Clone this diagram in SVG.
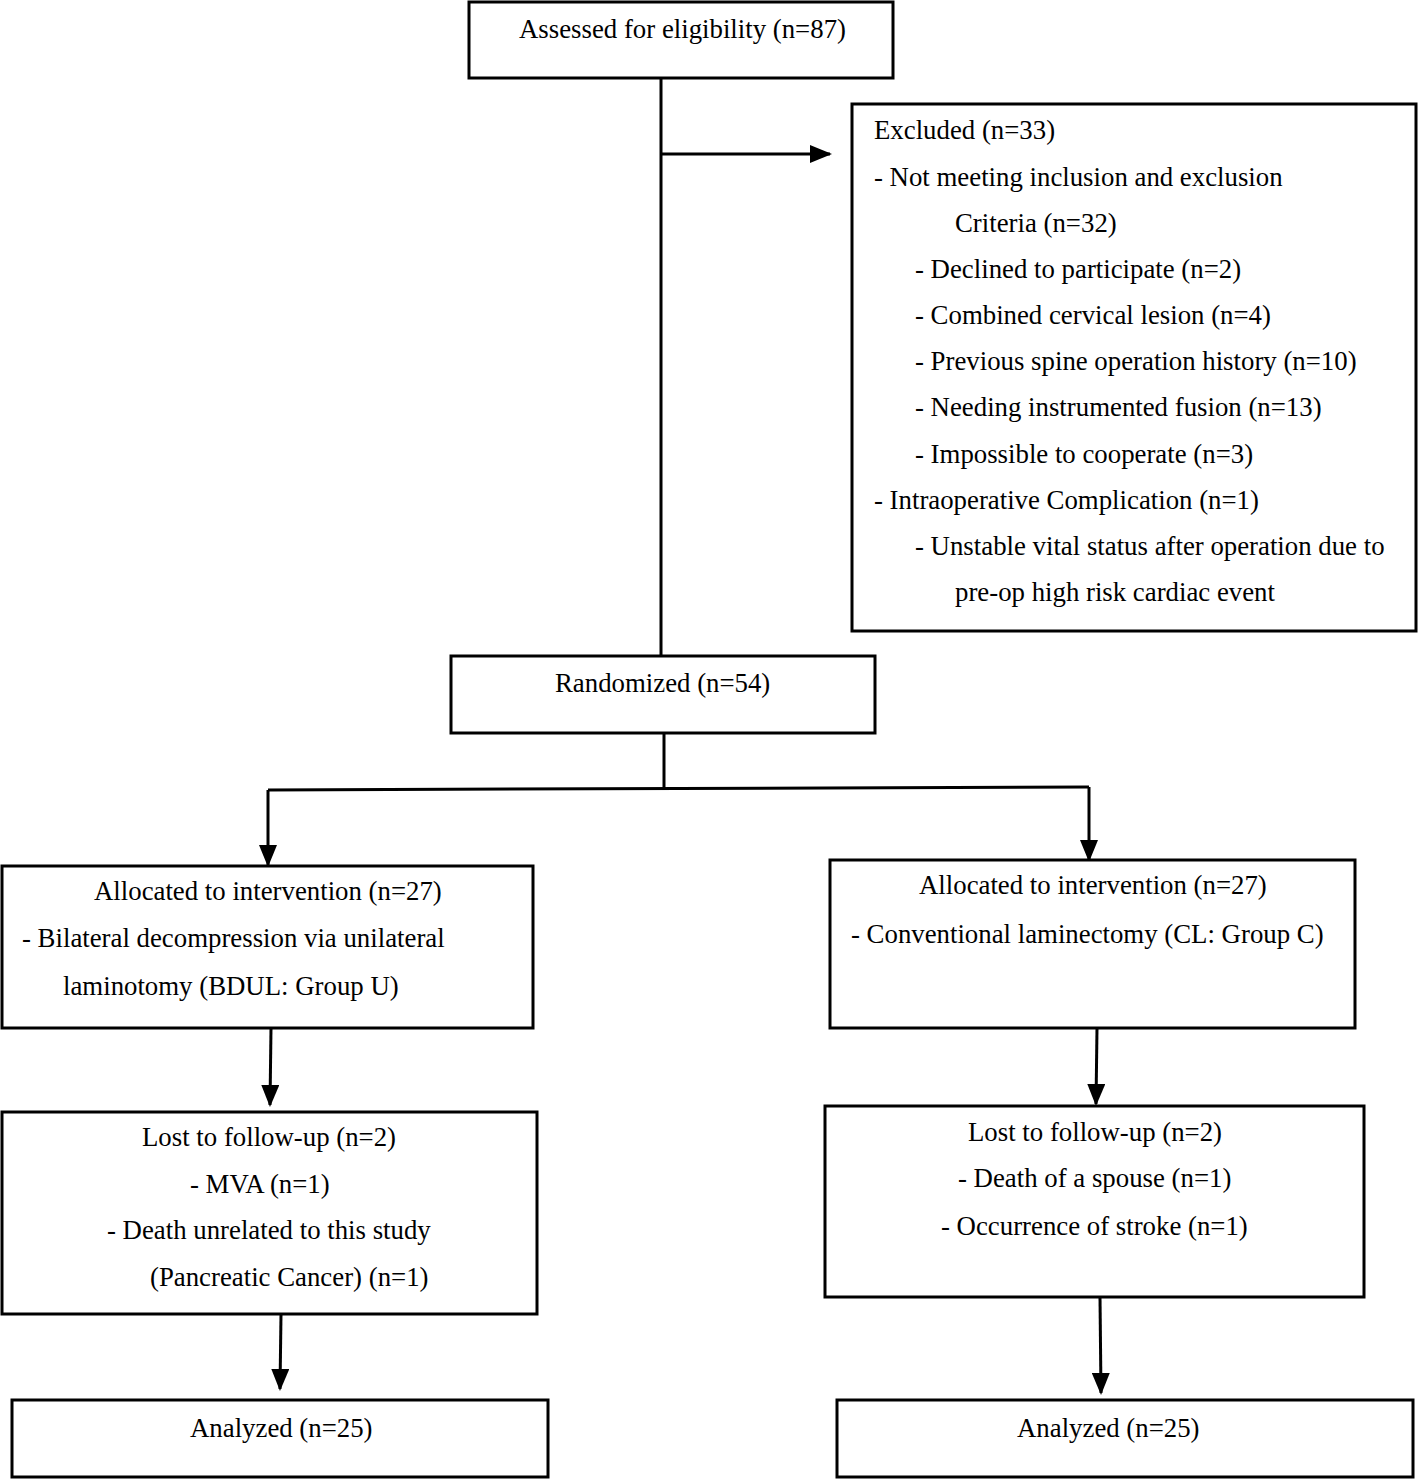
<svg xmlns="http://www.w3.org/2000/svg" width="1418" height="1479" viewBox="0 0 1418 1479">
<style>
.box{fill:#fff;stroke:#000;stroke-width:3}
.ln{fill:none;stroke:#000;stroke-width:3}
text{font-family:"Liberation Serif","Times New Roman",serif;font-size:26.8px;fill:#000}
</style>
<defs>
<marker id="ah" markerUnits="userSpaceOnUse" markerWidth="22" markerHeight="18" refX="20" refY="9" orient="auto">
<path d="M0,0 L22,9 L0,18 Z" fill="#000"/>
</marker>
</defs>
<rect width="1418" height="1479" fill="#fff"/>
<g id="connectors">
<path class="ln" d="M661,78 V656"/>
<path class="ln" d="M661,154 H830" marker-end="url(#ah)"/>
<path class="ln" d="M664,733 V788"/>
<path class="ln" d="M268,790 L1089,787"/>
<path class="ln" d="M268,790 V865" marker-end="url(#ah)"/>
<path class="ln" d="M1089,787 V860" marker-end="url(#ah)"/>
<path class="ln" d="M271,1028 L270,1105" marker-end="url(#ah)"/>
<path class="ln" d="M1097,1028 L1096,1104" marker-end="url(#ah)"/>
<path class="ln" d="M281,1314 L280,1389" marker-end="url(#ah)"/>
<path class="ln" d="M1100,1297 L1101,1393" marker-end="url(#ah)"/>
</g>
<g id="assessed">
<rect class="box" x="469" y="2" width="424" height="76"/>
<text x="519" y="38">Assessed for eligibility (n=87)</text>
</g>
<g id="excluded">
<rect class="box" x="852" y="104" width="564" height="527"/>
<text x="874" y="139">Excluded (n=33)</text>
<text x="874" y="186">- Not meeting inclusion and exclusion</text>
<text x="955" y="232">Criteria (n=32)</text>
<text x="915" y="278">- Declined to participate (n=2)</text>
<text x="915" y="324">- Combined cervical lesion (n=4)</text>
<text x="915" y="370">- Previous spine operation history (n=10)</text>
<text x="915" y="416">- Needing instrumented fusion (n=13)</text>
<text x="915" y="463">- Impossible to cooperate (n=3)</text>
<text x="874" y="509">- Intraoperative Complication (n=1)</text>
<text x="915" y="555">- Unstable vital status after operation due to</text>
<text x="955" y="601">pre-op high risk cardiac event</text>
</g>
<g id="randomized">
<rect class="box" x="451" y="656" width="424" height="77"/>
<text x="555" y="692">Randomized (n=54)</text>
</g>
<g id="alloc-u">
<rect class="box" x="2" y="866" width="531" height="162"/>
<text x="94" y="900">Allocated to intervention (n=27)</text>
<text x="22" y="947">- Bilateral decompression via unilateral</text>
<text x="63" y="995">laminotomy (BDUL: Group U)</text>
</g>
<g id="alloc-c">
<rect class="box" x="830" y="860" width="525" height="168"/>
<text x="919" y="894">Allocated to intervention (n=27)</text>
<text x="851" y="943">- Conventional laminectomy (CL: Group C)</text>
</g>
<g id="lost-u">
<rect class="box" x="2" y="1112" width="535" height="202"/>
<text x="142" y="1146">Lost to follow-up (n=2)</text>
<text x="190" y="1193">- MVA (n=1)</text>
<text x="107" y="1239">- Death unrelated to this study</text>
<text x="150" y="1286">(Pancreatic Cancer) (n=1)</text>
</g>
<g id="lost-c">
<rect class="box" x="825" y="1106" width="539" height="191"/>
<text x="968" y="1141">Lost to follow-up (n=2)</text>
<text x="958" y="1187">- Death of a spouse (n=1)</text>
<text x="941" y="1235">- Occurrence of stroke (n=1)</text>
</g>
<g id="analyzed-u">
<rect class="box" x="12" y="1400" width="536" height="77"/>
<text x="190" y="1437">Analyzed (n=25)</text>
</g>
<g id="analyzed-c">
<rect class="box" x="837" y="1400" width="576" height="77"/>
<text x="1017" y="1437">Analyzed (n=25)</text>
</g>
</svg>
